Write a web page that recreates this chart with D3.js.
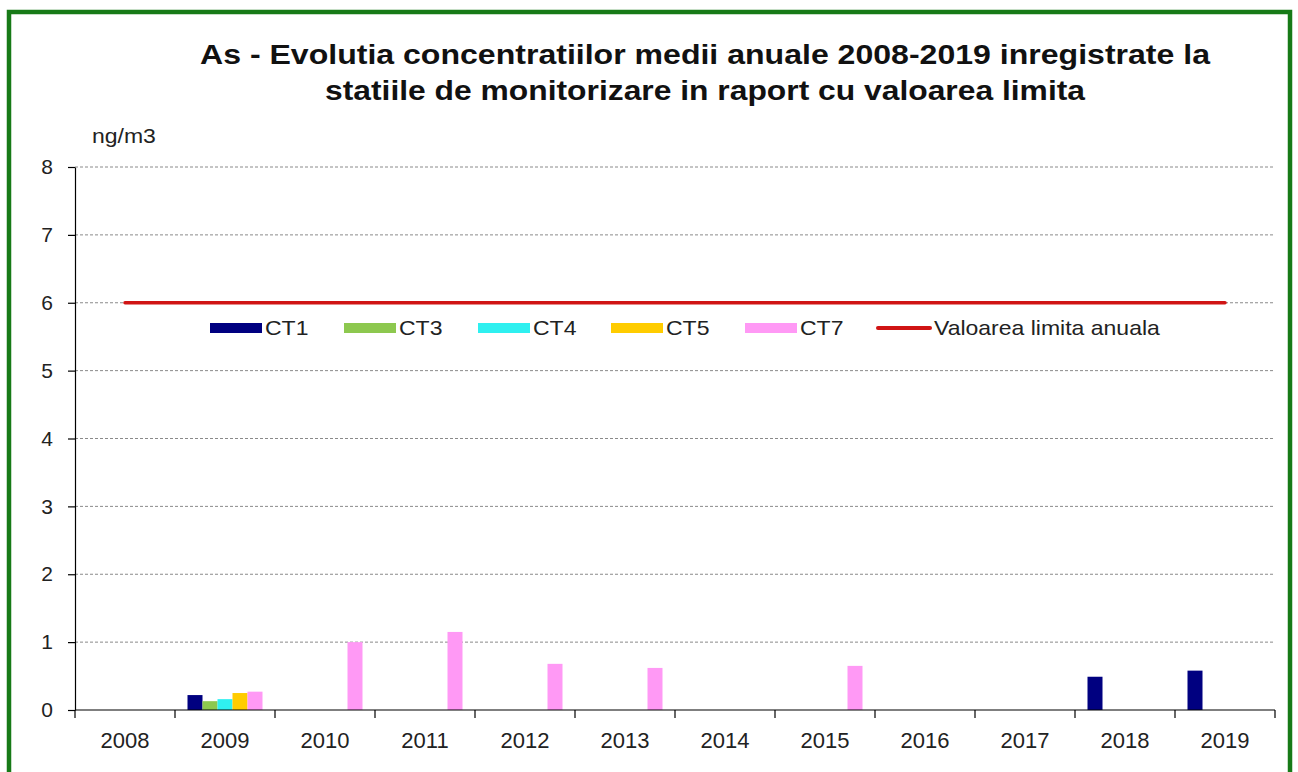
<!DOCTYPE html>
<html>
<head>
<meta charset="utf-8">
<script src="https://cdn.jsdelivr.net/npm/d3@7"></script>
<style>
  html, body { margin: 0; padding: 0; background: #ffffff; }
  svg { display: block; font-family: "Liberation Sans", Arial, sans-serif; }
</style>
</head>
<body>
<svg id="chart" width="1298" height="772"></svg>
<script>
// Annual mean As concentrations (ng/m3) per monitoring station
const years = ["2008","2009","2010","2011","2012","2013","2014","2015","2016","2017","2018","2019"];
const stations = ["CT1","CT3","CT4","CT5","CT7"];
const ct1 = [null, 0.22, null, null, null, null, null, null, null, null, 0.49, 0.58];
const ct3 = [null, 0.13, null, null, null, null, null, null, null, null, null, null];
const ct4 = [null, 0.16, null, null, null, null, null, null, null, null, null, null];
const ct5 = [null, 0.25, null, null, null, null, null, null, null, null, null, null];
const ct7 = [null, 0.27, 1.0, 1.15, 0.68, 0.62, null, 0.65, null, null, null, null];
const limitValue = [6,6,6,6,6,6,6,6,6,6,6,6];
const yTicks = [0,1,2,3,4,5,6,7,8];
const limitLabel = "Valoarea limita anuala";
const titleLines = [
  "As - Evolutia concentratiilor medii anuale 2008-2019 inregistrate la",
  "statiile de monitorizare in raport cu valoarea limita"
];
const unitLabel = "ng/m3";

const seriesValues = [ct1, ct3, ct4, ct5, ct7];
const colors = ["#000080", "#8dc84f", "#2ff0f0", "#ffcc00", "#ff99f5"];
const limitColor = "#d01414";
const textColor = "#222";

const svg = d3.select("#chart");

// frame
svg.append("rect")
  .attr("x", 9).attr("y", 12).attr("width", 1281).attr("height", 770)
  .attr("fill", "#ffffff").attr("stroke", "#177a17").attr("stroke-width", 4.5);

const plot = { left: 75, right: 1275, top: 167, bottom: 710 };

const x = d3.scaleBand().domain(years).range([plot.left, plot.right]).paddingInner(0).paddingOuter(0);
const y = d3.scaleLinear().domain([0, 8]).range([plot.bottom, plot.top]);

// bars occupy 75% of each category slot
const groupWidth = x.bandwidth() * 0.75;
const xs = d3.scaleBand().domain(stations).range([0, groupWidth]).padding(0);
const groupOffset = (x.bandwidth() - groupWidth) / 2;

// horizontal dashed gridlines
svg.append("g").selectAll("line").data(yTicks.filter(t => t > 0)).join("line")
  .attr("x1", plot.left).attr("x2", plot.right)
  .attr("y1", d => y(d)).attr("y2", d => y(d))
  .attr("stroke", "#8a8a8a").attr("stroke-width", 1).attr("stroke-dasharray", "3,2");

// bars
stations.forEach((s, i) => {
  const data = years.map((yr, j) => ({ yr, v: seriesValues[i][j] })).filter(d => d.v != null);
  svg.append("g").selectAll("rect").data(data).join("rect")
    .attr("x", d => x(d.yr) + groupOffset + xs(s))
    .attr("y", d => y(d.v))
    .attr("width", xs.bandwidth())
    .attr("height", d => y(0) - y(d.v))
    .attr("fill", colors[i]);
});

// limit line
const line = d3.line().x((d, i) => x(years[i]) + x.bandwidth() / 2).y(d => y(d));
svg.append("path").datum(limitValue)
  .attr("d", line).attr("fill", "none")
  .attr("stroke", limitColor).attr("stroke-width", 3.5).attr("stroke-linecap", "round");

// y axis
const yAxis = d3.axisLeft(y).tickValues(yTicks).tickSize(7).tickSizeOuter(0).tickPadding(15);
const gy = svg.append("g").attr("transform", `translate(${plot.left},0)`).call(yAxis);
gy.select(".domain").attr("stroke", "#000").attr("stroke-width", 1.2);
gy.selectAll(".tick line").attr("stroke", "#000").attr("stroke-width", 1.2);
gy.selectAll(".tick text").attr("font-size", 21).attr("fill", textColor)
  .attr("font-family", "'Liberation Sans', Arial, sans-serif");

// x axis: ticks at category boundaries
const gx = svg.append("g").attr("transform", `translate(0,${plot.bottom})`);
gx.append("line").attr("x1", plot.left).attr("x2", plot.right).attr("y1", 0).attr("y2", 0)
  .attr("stroke", "#000").attr("stroke-width", 1.2);
const boundaries = years.map(yr => x(yr)).concat([plot.right]);
gx.selectAll("line.b").data(boundaries).join("line").attr("class", "b")
  .attr("x1", d => d).attr("x2", d => d).attr("y1", 0).attr("y2", 8)
  .attr("stroke", "#000").attr("stroke-width", 1.2);
gx.selectAll("text").data(years).join("text")
  .attr("x", d => x(d) + x.bandwidth() / 2).attr("y", 38)
  .attr("text-anchor", "middle").attr("font-size", 22).attr("fill", textColor)
  .text(d => d);

// unit label
svg.append("text").attr("transform", "translate(92,143) scale(1.15,1)")
  .attr("font-size", 20).attr("fill", textColor).text(unitLabel);

// title
const titleWidths = [1010, 760];
svg.append("g").selectAll("text").data(titleLines).join("text")
  .attr("x", 705).attr("y", (d, i) => 64 + i * 36)
  .attr("text-anchor", "middle").attr("font-size", 28).attr("font-weight", "bold").attr("fill", "#111")
  .attr("textLength", (d, i) => titleWidths[i]).attr("lengthAdjust", "spacingAndGlyphs")
  .text(d => d);

// legend
const legendItems = stations.map((s, i) => ({ label: s, color: colors[i], type: "bar" }))
  .concat([{ label: limitLabel, color: limitColor, type: "line" }]);
const legendX = [210, 344, 478, 611, 745, 877];
const lg = svg.append("g").attr("transform", "translate(0,328)");
legendItems.forEach((d, i) => {
  const g = lg.append("g").attr("transform", `translate(${legendX[i]},0)`);
  if (d.type === "bar") {
    g.append("rect").attr("x", 0).attr("y", -5).attr("width", 52).attr("height", 10).attr("fill", d.color);
  } else {
    g.append("line").attr("x1", 1).attr("x2", 53).attr("y1", 0).attr("y2", 0)
      .attr("stroke", d.color).attr("stroke-width", 4).attr("stroke-linecap", "round");
  }
  g.append("text").attr("transform", `translate(${d.type === "bar" ? 55 : 57},7) scale(1.15,1)`)
    .attr("font-size", 20).attr("fill", textColor).text(d.label);
});
</script>
</body>
</html>
